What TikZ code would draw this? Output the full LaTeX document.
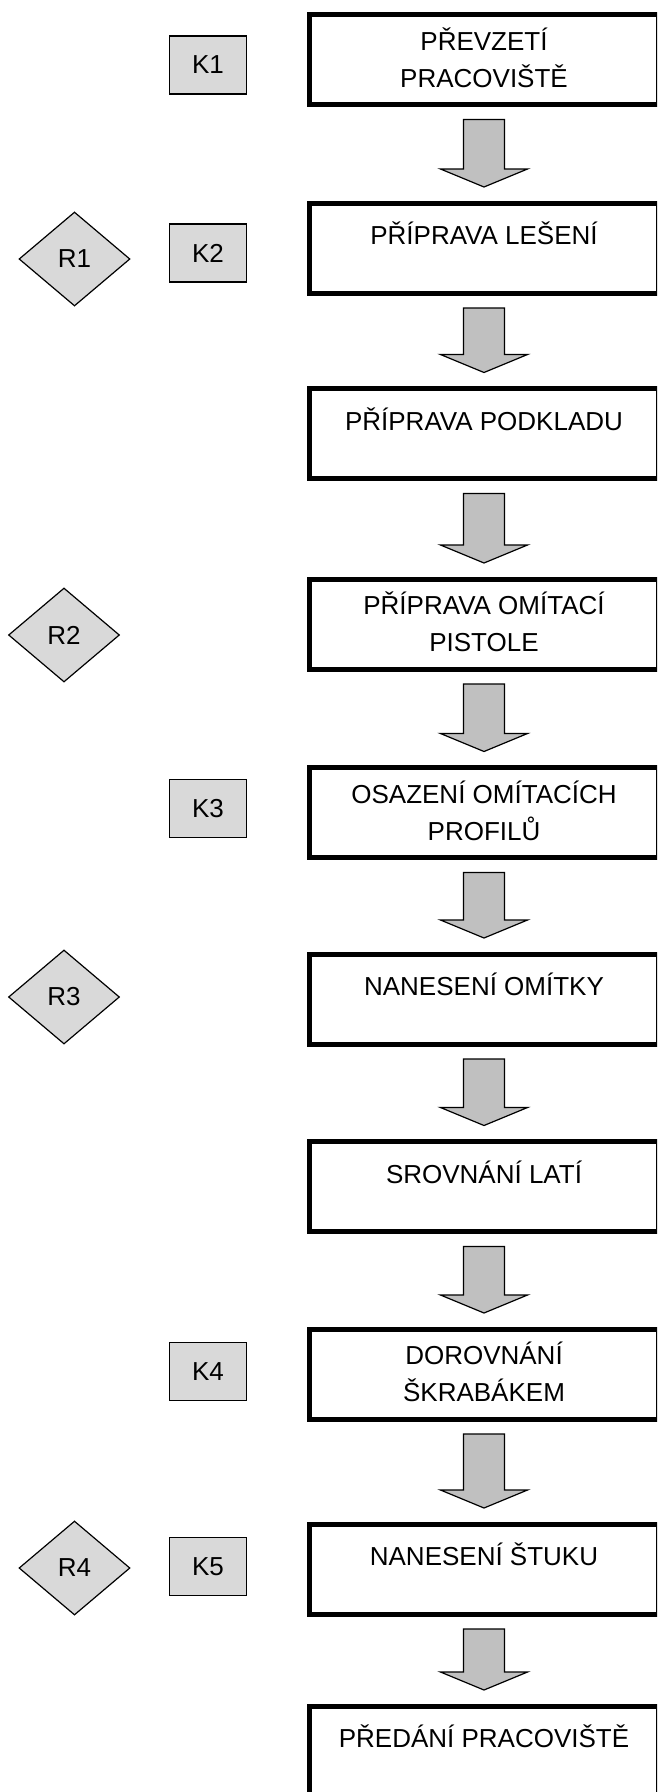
\documentclass[tikz,border=0pt]{standalone}
\usepackage{fontspec}
\setmainfont{Liberation Sans}
\usetikzlibrary{shapes.geometric,calc}
\definecolor{boxgray}{HTML}{D9D9D9}
\definecolor{arrowgray}{HTML}{C0C0C0}
\tikzset{
  mainbox/.style={draw, line width=5pt, fill=white, minimum width=349pt, minimum height=90pt,
    inner sep=0pt, align=center, font=\fontsize{26pt}{37pt}\selectfont},
  onebox/.style={mainbox, text height=18pt, text depth=25pt},
  twobox/.style={mainbox, text height=59pt, text depth=4pt},
  kbox/.style={draw, line width=1.2pt, fill=boxgray, minimum width=77pt, minimum height=58pt,
    inner sep=0pt, font=\fontsize{26pt}{30pt}\selectfont},
  rbox/.style={diamond, draw, line width=1.2pt, fill=boxgray, minimum width=111pt, minimum height=94pt,
    aspect=1.18, inner sep=0pt, font=\fontsize{26pt}{30pt}\selectfont},
  barrow/.style={draw, line width=1.2pt, fill=arrowgray, line join=miter}
}
\newcommand\blockarrow[2]{%
  \draw[barrow] let \p1=($(#1.south)+(0,12.5)$), \p2=($(#2.north)+(0,-13.5)$) in
    (\x1-20.5pt,\y1) -- (\x1+20.5pt,\y1) -- (\x1+20.5pt,\y2+18pt) -- (\x1+43.5pt,\y2+18pt)
    -- (\x1,\y2) -- (\x1-43.5pt,\y2+18pt) -- (\x1-20.5pt,\y2+18pt) -- cycle;}
\begin{document}
\begin{tikzpicture}[x=1pt,y=-1pt]
\useasboundingbox (0,0) rectangle (657,1792);
\clip (0,0) rectangle (657,1792);
\fill[white] (0,0) rectangle (657,1792);
% main process boxes
\node[twobox] (b1) at (484,59.5) {PŘEVZETÍ\\PRACOVIŠTĚ};
\node[onebox] (b2) at (484,248) {PŘÍPRAVA LEŠENÍ};
\node[onebox] (b3) at (484,433.5) {PŘÍPRAVA PODKLADU};
\node[twobox] (b4) at (484,624) {PŘÍPRAVA OMÍTACÍ\\PISTOLE};
\node[twobox] (b5) at (484,812.5) {OSAZENÍ OMÍTACÍCH\\PROFILŮ};
\node[onebox] (b6) at (484,999) {NANESENÍ OMÍTKY};
\node[onebox] (b7) at (484,1186.5) {SROVNÁNÍ LATÍ};
\node[twobox] (b8) at (484,1374) {DOROVNÁNÍ\\ŠKRABÁKEM};
\node[onebox] (b9) at (484,1569) {NANESENÍ ŠTUKU};
\node[onebox] (b10) at (484,1751) {PŘEDÁNÍ PRACOVIŠTĚ};
% K boxes
\node[kbox] (k1) at (208,65) {K1};
\node[kbox] (k2) at (208,253) {K2};
\node[kbox] (k3) at (208,808.5) {K3};
\node[kbox] (k4) at (208,1371.5) {K4};
\node[kbox] (k5) at (208,1566.5) {K5};
% R diamonds
\node[rbox] (r1) at (74.5,259) {R1};
\node[rbox] (r2) at (64,635) {R2};
\node[rbox] (r3) at (64,997) {R3};
\node[rbox] (r4) at (74.5,1568) {R4};
% block arrows
\blockarrow{b1}{b2}
\blockarrow{b2}{b3}
\blockarrow{b3}{b4}
\blockarrow{b4}{b5}
\blockarrow{b5}{b6}
\blockarrow{b6}{b7}
\blockarrow{b7}{b8}
\blockarrow{b8}{b9}
\blockarrow{b9}{b10}
\end{tikzpicture}
\end{document}
